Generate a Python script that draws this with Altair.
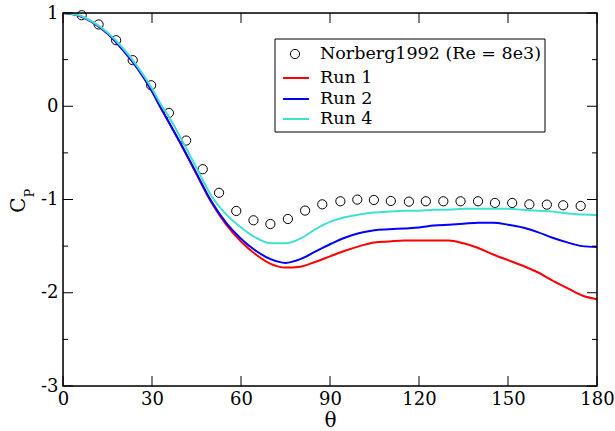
import altair as alt
import pandas as pd

# ---------------- data ----------------
norberg_theta = [6.3, 12.0, 17.9, 23.5, 29.7, 35.7, 41.5, 47.1, 52.6, 58.4,
                 64.2, 69.9, 75.8, 81.6, 87.4, 93.5, 99.2, 104.8, 110.5, 116.6,
                 122.3, 128.2, 134.0, 139.9, 145.6, 151.4, 157.2, 163.1, 168.6, 174.5]
norberg_cp = [0.976, 0.877, 0.708, 0.494, 0.225, -0.072, -0.368, -0.675, -0.928, -1.123,
              -1.223, -1.263, -1.209, -1.119, -1.052, -1.019, -1.001, -1.005, -1.016, -1.023,
              -1.019, -1.019, -1.019, -1.019, -1.037, -1.037, -1.052, -1.055, -1.062, -1.069]

run_theta = [0, 5, 10, 15, 20, 25, 30, 33, 36, 40, 45, 50, 55, 60, 65, 70, 75, 80, 85, 90,
             95, 100, 105, 110, 115, 120, 125, 130, 135, 140, 145, 150, 155, 160, 165, 170, 175, 180]
run1_cp = [1.0, 0.975, 0.90, 0.78, 0.61, 0.41, 0.16, -0.02, -0.19, -0.42, -0.73, -1.03, -1.27,
           -1.45, -1.59, -1.69, -1.73, -1.72, -1.67, -1.61, -1.55, -1.50, -1.46, -1.45, -1.44,
           -1.44, -1.44, -1.44, -1.47, -1.52, -1.59, -1.65, -1.71, -1.78, -1.87, -1.95, -2.03, -2.07]
run2_cp = [1.0, 0.975, 0.90, 0.78, 0.61, 0.41, 0.16, -0.02, -0.19, -0.42, -0.72, -1.02, -1.25,
           -1.42, -1.55, -1.64, -1.68, -1.64, -1.56, -1.48, -1.41, -1.36, -1.33, -1.32, -1.31,
           -1.30, -1.28, -1.27, -1.26, -1.25, -1.25, -1.27, -1.30, -1.35, -1.41, -1.46, -1.50, -1.51]
run4_cp = [1.0, 0.978, 0.905, 0.79, 0.63, 0.43, 0.19, 0.02, -0.13, -0.36, -0.66, -0.96, -1.16,
           -1.30, -1.41, -1.47, -1.47, -1.42, -1.32, -1.24, -1.19, -1.16, -1.14, -1.13, -1.12,
           -1.12, -1.11, -1.11, -1.10, -1.10, -1.10, -1.10, -1.11, -1.12, -1.13, -1.15, -1.16, -1.17]

series_names = ["Run 1", "Run 2", "Run 4"]
series_colors = ["#ff0000", "#0000ff", "#40e0d0"]
legend_labels = ["Norberg1992 (Re = 8e3)", "Run 1", "Run 2", "Run 4"]

x_ticks = [0, 30, 60, 90, 120, 150, 180]
y_ticks = [-3, -2, -1, 0, 1]
y_minor = [-2.5, -1.5, -0.5, 0.5]

# ---------------- layout / style ----------------
W, H = 534, 373
FONT = "DejaVu Serif"
xs = alt.Scale(domain=[0, 180], nice=False, zero=False)
ys = alt.Scale(domain=[-3, 1], nice=False, zero=False)

pts_df = pd.DataFrame({"theta": norberg_theta, "cp": norberg_cp})
lines_df = pd.concat([
    pd.DataFrame({"theta": run_theta, "cp": vals, "series": name})
    for name, vals in zip(series_names, [run1_cp, run2_cp, run4_cp])
], ignore_index=True)

x_axis = alt.Axis(values=x_ticks, tickSize=0, domain=False, grid=False,
                  labelFont=FONT, labelFontSize=18, labelColor="black",
                  labelPadding=4, labelFlush=False, labelOverlap=False,
                  title="θ", titleFont=FONT, titleFontSize=20,
                  titleFontWeight="normal", titleColor="black",
                  titleY=40, titleBaseline="alphabetic")
y_axis = alt.Axis(values=y_ticks, tickSize=0, domain=False, grid=False,
                  labelFont=FONT, labelFontSize=18, labelColor="black",
                  labelPadding=5, labelFlush=False, labelOverlap=False,
                  labelExpr="toString(datum.value)", title="")


def X(field):
    return alt.X(field, scale=xs, axis=x_axis, title="θ")


def Y(field):
    return alt.Y(field, scale=ys, axis=y_axis, title="")


points = alt.Chart(pts_df).mark_point(
    shape="circle", filled=False, size=85, stroke="black", strokeWidth=1, opacity=1
).encode(x=X("theta:Q"), y=Y("cp:Q"))

lines = alt.Chart(lines_df).mark_line(strokeWidth=2, interpolate="monotone").encode(
    x=X("theta:Q"),
    y=Y("cp:Q"),
    color=alt.Color("series:N", scale=alt.Scale(domain=series_names, range=series_colors), legend=None),
    detail="series:N",
)

# inward ticks
xt_df = pd.DataFrame({"theta": x_ticks})
yt_df = pd.DataFrame({"cp": y_ticks})
ym_df = pd.DataFrame({"cp": y_minor})
tick_style = dict(color="black", strokeWidth=1)
ticks = [
    alt.Chart(xt_df).mark_rule(**tick_style).encode(
        x=X("theta:Q"), y=alt.value(H), y2=alt.value(H - 10)),
    alt.Chart(xt_df).mark_rule(**tick_style).encode(
        x=X("theta:Q"), y=alt.value(0), y2=alt.value(10)),
    alt.Chart(yt_df).mark_rule(**tick_style).encode(
        y=Y("cp:Q"), x=alt.value(0), x2=alt.value(10)),
    alt.Chart(yt_df).mark_rule(**tick_style).encode(
        y=Y("cp:Q"), x=alt.value(W), x2=alt.value(W - 10)),
    alt.Chart(ym_df).mark_rule(**tick_style).encode(
        y=Y("cp:Q"), x=alt.value(0), x2=alt.value(5)),
    alt.Chart(ym_df).mark_rule(**tick_style).encode(
        y=Y("cp:Q"), x=alt.value(W), x2=alt.value(W - 5)),
]

one = alt.Data(values=[{}])

frame = alt.Chart(one).mark_rect(fill="transparent", stroke="black", strokeWidth=1.5).encode(
    x=alt.value(0), x2=alt.value(W), y=alt.value(0), y2=alt.value(H))

# y-axis title C_P
ytitle = [
    alt.Chart(one).mark_text(font=FONT, fontSize=20, angle=270, align="center",
                             baseline="alphabetic", color="black").encode(
        x=alt.value(-38), y=alt.value(192), text=alt.value("C")),
    alt.Chart(one).mark_text(font=FONT, fontSize=13, angle=270, align="center",
                             baseline="alphabetic", color="black").encode(
        x=alt.value(-29), y=alt.value(180), text=alt.value("P")),
]

# legend
row_y = [41, 65, 86, 106]
legend = [
    alt.Chart(one).mark_rect(fill="white", stroke="black", strokeWidth=1).encode(
        x=alt.value(212), x2=alt.value(482), y=alt.value(26), y2=alt.value(119)),
    alt.Chart(one).mark_point(shape="circle", filled=False, size=85, stroke="black",
                              strokeWidth=1, opacity=1).encode(
        x=alt.value(232), y=alt.value(row_y[0])),
]
for i, col in enumerate(series_colors):
    legend.append(alt.Chart(one).mark_rule(color=col, strokeWidth=2).encode(
        x=alt.value(220), x2=alt.value(246), y=alt.value(row_y[i + 1])))
for i, lab in enumerate(legend_labels):
    legend.append(alt.Chart(one).mark_text(font=FONT, fontSize=17.5, align="left",
                                           baseline="middle", color="black").encode(
        x=alt.value(257), y=alt.value(row_y[i]), text=alt.value(lab)))

chart = alt.layer(points, lines, *ticks, frame, *ytitle, *legend).properties(
    width=W, height=H,
    padding={"left": 63, "top": 13, "right": 18, "bottom": 45},
    autosize=alt.AutoSizeParams(type="none"),
).configure_view(stroke=None).configure(background="white")

chart.save("out.html", embed_options={"renderer": "svg", "actions": False})
